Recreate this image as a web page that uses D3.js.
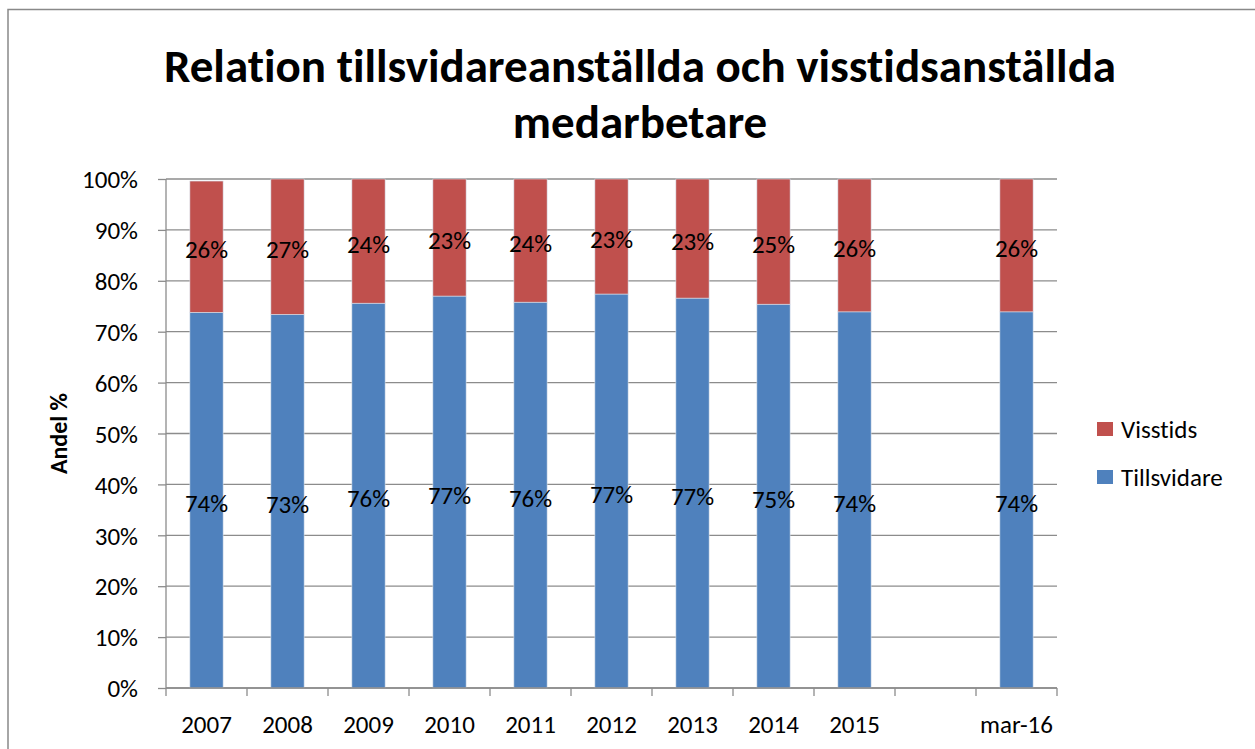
<!DOCTYPE html>
<html>
<head>
<meta charset="utf-8">
<script src="https://cdn.jsdelivr.net/npm/d3@7"></script>
<style>
body { margin: 0; background: #fff; }
svg { display: block; font-family: Carlito, Lato, "Open Sans", sans-serif; font-variant-ligatures: none; }
.axis text { font-size: 25px; fill: #000; font-family: Carlito, Lato, "Open Sans", sans-serif; }
</style>
</head>
<body>
<svg id="chart" width="1255" height="749"></svg>
<script>
// data
const categories = ["2007", "2008", "2009", "2010", "2011", "2012", "2013", "2014", "2015", "", "mar-16"];
const tillsvidare = [73.8, 73.4, 75.6, 77.0, 75.8, 77.4, 76.6, 75.4, 73.9, null, 73.9];
const visstids = [25.8, 26.6, 24.4, 23.0, 24.2, 22.6, 23.4, 24.6, 26.1, null, 26.1];
const yTicks = [0, 10, 20, 30, 40, 50, 60, 70, 80, 90, 100];
const seriesNames = ["Tillsvidare", "Visstids"];
const seriesColors = ["#4F81BD", "#C0504D"];

const svg = d3.select("#chart");
const pLeft = 166, pRight = 1057, pTop = 179, pBottom = 688;

let xScale = d3.scaleBand().domain(categories).range([pLeft, pRight]).paddingInner(0.59).paddingOuter(0.295);
let yScale = d3.scaleLinear().domain([0, 100]).range([pBottom, pTop]);

// chart frame
svg.append("rect").attr("x", 8).attr("y", 9.5).attr("width", 1260).attr("height", 760)
    .attr("fill", "none").attr("stroke", "#898989").attr("stroke-width", 1.5);

// gridlines
svg.append("g").selectAll("line").data(yTicks).enter().append("line")
    .attr("x1", pLeft).attr("x2", pRight)
    .attr("y1", d => yScale(d)).attr("y2", d => yScale(d))
    .attr("stroke", "#8c8c8c").attr("stroke-width", 1.3);

// y axis
let y_axis = d3.axisLeft(yScale).tickValues(yTicks).tickSize(8).tickPadding(20).tickFormat(d => d + "%");
let gy = svg.append("g").attr("class", "axis").attr("transform", `translate(${pLeft},0)`).call(y_axis);
gy.selectAll("line, path").attr("stroke", "#8c8c8c").attr("stroke-width", 1.3);
gy.select("path").attr("d", `M0,${pTop}V${pBottom}`);
gy.selectAll("text").attr("dy", "0.35em");

// stacked bars
const rows = categories.map((c, i) => ({ cat: c, Tillsvidare: tillsvidare[i], Visstids: visstids[i] }))
    .filter(r => r.Tillsvidare != null);
const stack = d3.stack().keys(seriesNames)(rows);

const layers = svg.append("g").selectAll("g").data(stack).enter().append("g")
    .attr("fill", (d, i) => seriesColors[i]);
layers.selectAll("rect").data(d => d).enter().append("rect")
    .attr("x", d => xScale(d.data.cat))
    .attr("width", xScale.bandwidth())
    .attr("y", d => yScale(d[1]))
    .attr("height", d => yScale(d[0]) - yScale(d[1]))
    .attr("stroke", "#d7dfea").attr("stroke-width", 0.6);

// data labels
layers.selectAll("text").data(d => d).enter().append("text")
    .attr("x", d => xScale(d.data.cat) + xScale.bandwidth() / 2)
    .attr("y", d => (yScale(d[0]) + yScale(d[1])) / 2 + 3)
    .attr("text-anchor", "middle").attr("dy", "0.35em")
    .attr("font-size", 25).attr("fill", "#000")
    .text(d => Math.round(d[1] - d[0]) + "%");

// x axis
let x_axis = d3.axisBottom(xScale).tickSize(0).tickPadding(27);
let gx = svg.append("g").attr("class", "axis").attr("transform", `translate(0,${pBottom})`).call(x_axis);
gx.select("path").attr("d", `M${pLeft},0H${pRight}`).attr("stroke", "#8c8c8c").attr("stroke-width", 1.3);
const step = xScale.step();
gx.selectAll(".boundary").data(d3.range(categories.length + 1)).enter().append("line")
    .attr("x1", i => pLeft + i * step).attr("x2", i => pLeft + i * step)
    .attr("y1", 0).attr("y2", 8).attr("stroke", "#8c8c8c").attr("stroke-width", 1.3);

// title
const title = svg.append("text").attr("text-anchor", "middle").attr("font-weight", "bold")
    .attr("font-size", 47).attr("fill", "#000");
title.append("tspan").attr("x", 640).attr("y", 82).text("Relation tillsvidareanställda och visstidsanställda");
title.append("tspan").attr("x", 640).attr("y", 138).text("medarbetare");

// y label
svg.append("text").attr("transform", `translate(67,${(pTop + pBottom) / 2}) rotate(270)`)
    .attr("text-anchor", "middle").attr("font-weight", "bold").attr("font-size", 24)
    .text("Andel %");

// legend
const legendNames = ["Visstids", "Tillsvidare"];
const legendColors = ["#C0504D", "#4F81BD"];
const legend = svg.append("g").selectAll("g").data(legendNames).enter().append("g")
    .attr("transform", (d, i) => `translate(1097,${422 + i * 48})`);
legend.append("rect").attr("width", 16).attr("height", 14).attr("fill", (d, i) => legendColors[i]);
legend.append("text").attr("x", 24).attr("y", 7).attr("dy", "0.35em").attr("font-size", 25).text(d => d);
</script>
</body>
</html>
